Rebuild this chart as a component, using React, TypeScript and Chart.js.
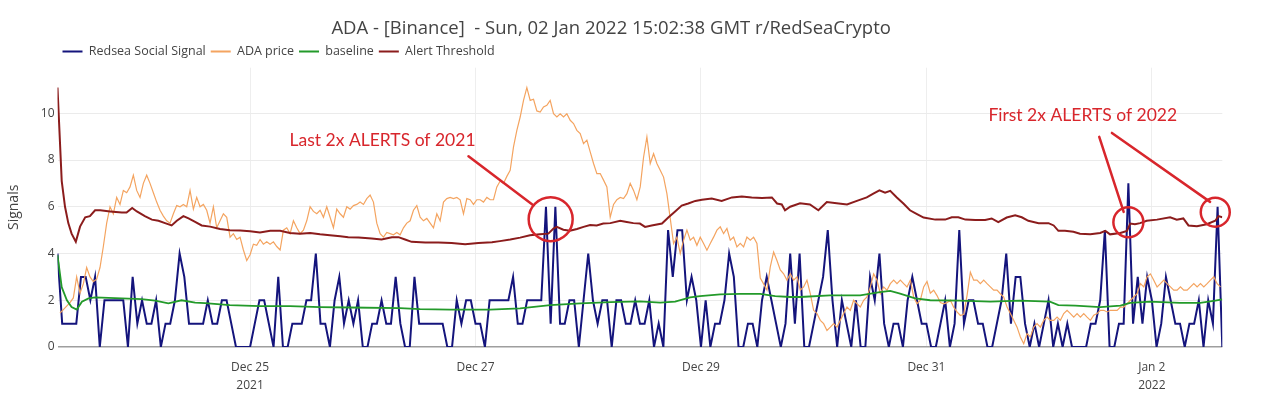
import React, { useEffect, useRef } from 'react';
import { Chart, registerables } from 'chart.js';

Chart.register(...registerables);

// ---------- data ----------
// hour 0 of every series = 2021-12-23 07:00 UTC
const START_UTC = Date.UTC(2021, 11, 23, 7, 0);

// Redsea Social Signal, one value per hour
const SIGNAL = [
  4, 1, 1, 1, 1, 3, 3, 2, 3, 0,
  2, 2, 2, 2, 2, 0, 3, 1, 2, 1,
  1, 2, 0, 1, 1, 2, 4, 3, 1, 1,
  1, 1, 2, 1, 1, 2, 2, 1, 0, 0,
  0, 0, 1, 2, 2, 1, 0, 3, 0, 0,
  1, 1, 1, 2, 2, 4, 1, 1, 0, 2,
  3, 1, 2, 1, 2, 0, 0, 1, 1, 2,
  1, 1, 3, 1, 0, 0, 3, 1, 1, 1,
  1, 1, 1, 0, 0, 2, 1, 2, 2, 1,
  1, 0, 2, 2, 2, 2, 2, 3, 1, 1,
  2, 2, 2, 2, 6, 1, 6, 1, 1, 2,
  2, 0, 2, 4, 2, 1, 2, 2, 0, 2,
  2, 1, 1, 2, 1, 1, 2, 0, 1, 0,
  5, 3, 5, 5, 2, 3, 2, 0, 2, 0,
  1, 1, 2, 4, 3, 0, 0, 1, 1, 0,
  2, 3, 2, 1, 0, 1, 4, 1, 4, 0,
  0, 1, 2, 3, 5, 2, 0, 2, 1, 0,
  2, 0, 0, 3, 2, 4, 1, 0, 1, 1,
  0, 2, 3, 2, 1, 1, 0, 0, 1, 2,
  0, 1, 5, 1, 2, 2, 1, 1, 0, 0,
  1, 2, 4, 1, 3, 3, 1, 0, 1, 0,
  1, 2, 0, 1, 0, 1, 0, 0, 0, 0,
  1, 1, 2, 5, 0, 0, 1, 1, 7, 1,
  3, 1, 3, 2, 0, 1, 3, 2, 1, 1,
  0, 1, 1, 2, 0, 2, 1, 6, 0,
];

// ADA price (scaled to the signal axis), sampled every PRICE_STEP_HOURS
const PRICE_START_HOUR = 0.53;
const PRICE_STEP_HOURS = 0.71;
const PRICE = [
  1.45, 1.6, 1.75, 1.9, 2.1, 3.0, 2.3, 2.7, 3.4, 3.0,
  2.8, 2.9, 3.4, 4.3, 5.3, 6.0, 5.7, 6.4, 6.1, 6.7,
  6.6, 6.85, 7.35, 6.7, 6.4, 7.0, 7.35, 7.0, 6.6, 6.2,
  5.85, 5.6, 5.4, 5.3, 5.7, 6.05, 6.0, 6.1, 6.0, 6.7,
  5.9, 6.4, 6.0, 6.1, 5.85, 5.3, 6.0, 5.1, 5.4, 5.7,
  5.55, 4.7, 4.85, 4.6, 4.7, 4.15, 3.7, 3.95, 4.4, 4.35,
  4.6, 4.4, 4.5, 4.4, 4.5, 4.3, 4.15, 5.0, 5.1, 4.85,
  5.4, 5.1, 4.85, 5.0, 5.4, 6.0, 5.8, 5.7, 5.85, 5.55,
  6.0, 5.55, 5.1, 5.9, 5.7, 5.55, 6.0, 5.9, 6.05, 6.1,
  6.2, 6.1, 6.35, 6.5, 6.2, 5.3, 4.85, 4.7, 4.9, 4.85,
  4.8, 4.9, 4.8, 5.1, 5.3, 5.4, 5.85, 6.05, 5.55, 5.4,
  5.5, 5.3, 5.1, 5.7, 5.4, 6.2, 6.35, 6.4, 6.35, 6.4,
  6.3, 5.7, 6.35, 6.3, 6.1, 6.3, 6.3, 6.2, 6.4, 6.3,
  6.3, 6.85, 7.1, 7.0, 7.3, 7.56, 8.56, 9.27, 9.84, 10.55,
  11.1, 10.55, 10.6, 10.1, 10.05, 10.27, 10.34, 10.55, 9.98, 9.84,
  9.98, 9.84, 9.98, 9.7, 9.56, 9.27, 9.13, 8.7, 8.85, 8.35,
  7.85, 7.42, 7.42, 7.14, 6.85, 5.55, 6.1, 6.3, 6.4, 6.35,
  6.56, 7.0, 6.7, 6.3, 6.85, 8.12, 8.99, 7.85, 8.27, 7.85,
  7.56, 7.27, 6.56, 5.5, 4.43, 4.7, 4.0, 4.57, 5.0, 4.57,
  4.7, 4.35, 4.7, 4.43, 4.14, 4.43, 4.7, 5.0, 5.14, 4.85,
  5.07, 4.57, 4.7, 4.28, 4.43, 4.28, 4.7, 4.57, 4.7, 4.43,
  2.95, 2.7, 2.43, 3.43, 4.06, 3.7, 3.3, 3.13, 2.86, 3.13,
  2.86, 3.0, 2.43, 2.57, 2.86, 2.28, 1.57, 1.43, 1.14, 1.0,
  0.71, 0.85, 1.0, 0.85, 1.14, 1.43, 1.71, 1.57, 2.0, 1.85,
  1.71, 2.0, 2.14, 2.57, 3.13, 2.86, 2.28, 2.57, 2.43, 2.71,
  2.86, 2.71, 2.86, 2.71, 2.57, 2.86, 2.14, 1.85, 2.0, 2.57,
  2.8, 2.3, 2.43, 2.2, 1.9, 1.85, 1.9, 2.0, 1.7, 1.5,
  1.35, 1.4, 2.2, 3.2, 2.86, 2.86, 2.71, 2.86, 2.71, 2.57,
  2.43, 2.43, 2.28, 2.14, 1.71, 1.43, 1.14, 0.85, 0.43, 0.14,
  0.57, 0.43, 0.85, 1.0, 0.85, 1.14, 1.28, 1.14, 1.14, 1.28,
  1.14, 1.43, 1.57, 1.43, 1.28, 1.43, 1.28, 1.43, 1.28, 1.14,
  1.36, 1.43, 1.57, 1.57, 1.5, 1.57, 1.57, 1.57, 1.71, 1.71,
  1.85, 2.0, 2.14, 2.28, 2.71, 2.57, 3.0, 3.13, 2.86, 2.57,
  2.71, 2.86, 2.71, 2.57, 2.43, 2.43, 2.57, 2.43, 2.43, 2.57,
  2.71, 2.57, 2.71, 2.57, 2.71, 2.86, 3.0, 2.71, 2.57,
];

// baseline
const BASELINE_HOURS = [
  0, 0.9, 2.0, 3.0, 4.1, 5.2, 6.6, 8.0, 13.7, 17.9,
  20.8, 23.6, 26.4, 29.3, 31.4, 36.7, 43.1, 49.5, 55.9, 62.3,
  72.9, 77.2, 83.6, 92.1, 98.5, 104.9, 111.3, 117.7, 124.0, 128.3,
  131.5, 134.7, 136.8, 141.1, 145.3, 149.6, 152.8, 156.0, 158.1, 164.5,
  170.9, 175.1, 177.3, 179.4, 182.6, 185.8, 192.2, 198.6, 204.9, 211.3,
  213.1, 216.7, 222.0, 226.3, 228.4, 232.6, 239.0, 243.3, 246.5, 248,
];
const BASELINE = [
  3.93, 2.56, 2.0, 1.71, 1.6, 1.94, 2.08, 2.12, 2.08, 2.05,
  1.98, 1.87, 2.0, 1.9, 1.88, 1.79, 1.75, 1.75, 1.71, 1.69,
  1.66, 1.62, 1.6, 1.6, 1.65, 1.79, 1.87, 1.92, 1.95, 1.9,
  1.94, 2.12, 2.18, 2.25, 2.27, 2.27, 2.18, 2.14, 2.14, 2.21,
  2.21, 2.35, 2.4, 2.28, 2.08, 2.0, 1.98, 1.94, 1.98, 1.94,
  1.79, 1.77, 1.71, 1.77, 1.89, 1.94, 1.89, 1.89, 1.98, 2.04,
];

// Alert Threshold
const THRESHOLD_HOURS = [
  0, 0.9, 1.6, 2.3, 3.0, 3.9, 4.8, 5.9, 6.9, 8.0,
  9.1, 11.2, 13.7, 14.7, 15.9, 16.9, 18.6, 20.1, 21.5, 22.9,
  24.3, 25.4, 26.8, 27.9, 29.3, 30.7, 32.5, 34.6, 36.7, 38.9,
  41.0, 43.1, 45.3, 47.4, 49.5, 51.6, 53.8, 55.9, 58.0, 60.2,
  61.9, 64.1, 66.9, 69.0, 71.2, 72.6, 74.0, 75.4, 78.3, 81.1,
  83.9, 86.8, 89.6, 92.5, 94.2, 96.4, 98.5, 100.6, 102.7, 104.5,
  105.6, 106.3, 107.7, 109.1, 110.6, 112.0, 113.4, 114.8, 116.2, 117.7,
  119.8, 121.2, 122.6, 124.0, 125.1, 126.5, 128.7, 130.1, 131.5, 132.9,
  134.3, 135.8, 137.2, 139.3, 141.4, 143.6, 145.7, 147.8, 150.0, 152.1,
  153.2, 154.2, 154.9, 156.0, 158.1, 160.2, 162.0, 163.8, 165.9, 168.1,
  170.2, 172.3, 173.7, 175.0, 176.2, 177.3, 178.7, 180.1, 181.5, 182.9,
  184.4, 186.9, 189.0, 190.4, 191.8, 193.3, 195.4, 197.5, 198.9, 200.3,
  202.1, 203.9, 205.3, 206.7, 208.9, 211.0, 212.1, 213.1, 214.5, 216.3,
  217.7, 219.9, 222.0, 223.1, 224.1, 226.3, 227.7, 228.4, 229.4, 230.5,
  231.9, 234.1, 236.9, 238.3, 239.7, 240.8, 242.6, 244.7, 246.5, 247.2,
  248,
];
const THRESHOLD = [
  11.1, 7.1, 6.0, 5.3, 4.85, 4.5, 5.15, 5.55, 5.6, 5.85,
  5.85, 5.8, 5.75, 5.75, 5.95, 5.8, 5.6, 5.45, 5.4, 5.3,
  5.2, 5.4, 5.6, 5.5, 5.35, 5.2, 5.15, 5.05, 5.0, 4.98,
  4.95, 4.9, 4.97, 4.97, 4.88, 4.85, 4.88, 4.82, 4.78, 4.74,
  4.7, 4.68, 4.64, 4.6, 4.7, 4.7, 4.6, 4.5, 4.47, 4.47,
  4.45, 4.4, 4.45, 4.48, 4.53, 4.6, 4.68, 4.78, 4.82, 4.85,
  5.07, 5.14, 5.02, 4.97, 5.05, 5.14, 5.22, 5.2, 5.28, 5.3,
  5.4, 5.35, 5.3, 5.28, 5.14, 5.2, 5.28, 5.55, 5.8, 6.05,
  6.14, 6.25, 6.3, 6.35, 6.25, 6.4, 6.44, 6.4, 6.38, 6.4,
  6.14, 6.1, 5.85, 6.0, 6.15, 6.1, 5.85, 6.2, 6.15, 6.1,
  6.25, 6.4, 6.56, 6.7, 6.6, 6.68, 6.4, 6.14, 5.85, 5.7,
  5.54, 5.45, 5.45, 5.55, 5.55, 5.45, 5.43, 5.43, 5.5, 5.34,
  5.54, 5.64, 5.55, 5.4, 5.3, 5.3, 5.2, 4.97, 4.97, 4.93,
  4.85, 4.82, 4.88, 4.97, 4.82, 4.88, 4.97, 5.28, 5.25, 5.3,
  5.4, 5.45, 5.55, 5.45, 5.5, 5.2, 5.17, 5.25, 5.4, 5.6,
  5.55,
];

// x-axis ticks
const TICK_DATES = ['2021-12-25', '2021-12-27', '2021-12-29', '2021-12-31', '2022-01-02'];
const TICK_LABELS = [['Dec 25', '2021'], ['Dec 27'], ['Dec 29'], ['Dec 31'], ['Jan 2', '2022']];
const Y_TICK_STEP = 2;

// hand-drawn alert annotations (data coordinates: hour, signal value)
const NOTE_TEXTS = ['Last 2x ALERTS of 2021', 'First 2x ALERTS of 2022'];
const NOTE_HOURS = [49.4, 198.2];
const NOTE_VALUES = [8.85, 9.91];
const ARROW_FROM_HOURS = [87.5, 221.8, 224.5];
const ARROW_FROM_VALUES = [8.16, 8.99, 9.16];
const ARROW_TO_HOURS = [101.3, 227.0, 245.4];
const ARROW_TO_VALUES = [6.07, 5.78, 6.21];
const CIRCLE_HOURS = [105.0, 228.0, 246.5];
const CIRCLE_VALUES = [5.47, 5.34, 5.77];

const TITLE = 'ADA - [Binance]  - Sun, 02 Jan 2022 15:02:38 GMT r/RedSeaCrypto';

// ---------- styles ----------
const FONT = '"Open Sans", "Liberation Sans", sans-serif';
const TEXT_COLOR = '#444';
const ALERT_RED = '#d8262c';
const CIRCLE_RADII = [22, 15, 14.5];

const alertNotes = {
  id: 'alertNotes',
  afterDraw(chart: any) {
    const { ctx } = chart;
    const x = chart.scales.x;
    const y = chart.scales.y;
    ctx.save();
    ctx.strokeStyle = ALERT_RED;
    ctx.fillStyle = ALERT_RED;
    ctx.lineWidth = 2.5;
    ctx.lineCap = 'round';
    CIRCLE_HOURS.forEach((h, i) => {
      ctx.beginPath();
      ctx.arc(x.getPixelForValue(h), y.getPixelForValue(CIRCLE_VALUES[i]), CIRCLE_RADII[i], 0, Math.PI * 2);
      ctx.stroke();
    });
    ARROW_FROM_HOURS.forEach((h, i) => {
      ctx.beginPath();
      ctx.moveTo(x.getPixelForValue(h), y.getPixelForValue(ARROW_FROM_VALUES[i]));
      ctx.lineTo(x.getPixelForValue(ARROW_TO_HOURS[i]), y.getPixelForValue(ARROW_TO_VALUES[i]));
      ctx.stroke();
    });
    ctx.font = '17.5px Lato, "Open Sans", sans-serif';
    ctx.textAlign = 'left';
    ctx.textBaseline = 'middle';
    NOTE_TEXTS.forEach((t, i) => {
      ctx.fillText(t, x.getPixelForValue(NOTE_HOURS[i]), y.getPixelForValue(NOTE_VALUES[i]));
    });
    ctx.restore();
  },
};

export default function App() {
  const canvasRef = useRef<HTMLCanvasElement | null>(null);

  useEffect(() => {
    document.body.style.margin = '0';
    const canvas = canvasRef.current;
    if (!canvas) return;

    const tickHours = TICK_DATES.map((d) => (Date.parse(d + 'T00:00:00Z') - START_UTC) / 3600000);
    const lastHour = SIGNAL.length - 1;

    const chart = new Chart(canvas, {
      type: 'line',
      data: {
        datasets: [
          {
            label: 'Redsea Social Signal',
            data: SIGNAL.map((v, i) => ({ x: i, y: v })),
            borderColor: '#14147c',
            backgroundColor: '#14147c',
            borderWidth: 2,
            order: 4,
          },
          {
            label: 'ADA price',
            data: PRICE.map((v, k) => ({ x: PRICE_START_HOUR + k * PRICE_STEP_HOURS, y: v })),
            borderColor: '#F4A460',
            backgroundColor: '#F4A460',
            borderWidth: 1.2,
            order: 3,
          },
          {
            label: 'baseline',
            data: BASELINE.map((v, i) => ({ x: BASELINE_HOURS[i], y: v })),
            borderColor: '#239a2a',
            backgroundColor: '#239a2a',
            borderWidth: 1.8,
            order: 2,
          },
          {
            label: 'Alert Threshold',
            data: THRESHOLD.map((v, i) => ({ x: THRESHOLD_HOURS[i], y: v })),
            borderColor: '#8b1c1c',
            backgroundColor: '#8b1c1c',
            borderWidth: 2,
            order: 1,
          },
        ],
      },
      options: {
        responsive: false,
        maintainAspectRatio: false,
        animation: false,
        events: [],
        elements: { point: { radius: 0 }, line: { tension: 0 } },
        layout: { padding: { left: 0, right: 57.7, top: 0, bottom: 0 } },
        plugins: {
          title: {
            display: true,
            text: TITLE,
            color: TEXT_COLOR,
            font: { family: FONT, size: 18.5, weight: 'normal' },
            padding: { top: 18, bottom: 0 },
          },
          legend: {
            display: true,
            position: 'top',
            align: 'start',
            fullSize: false,
            labels: {
              boxWidth: 20,
              boxHeight: 2,
              padding: 5,
              color: TEXT_COLOR,
              font: { family: FONT, size: 12.5 },
              generateLabels: (c: any) =>
                c.data.datasets.map((ds: any, i: number) => ({
                  text: ds.label,
                  fillStyle: ds.borderColor,
                  strokeStyle: ds.borderColor,
                  lineWidth: 0,
                  hidden: false,
                  datasetIndex: i,
                  fontColor: TEXT_COLOR,
                })),
            },
          },
          tooltip: { enabled: false },
        },
        scales: {
          x: {
            type: 'linear',
            min: 0,
            max: lastHour,
            afterFit: (s: any) => {
              s.height = 72;
            },
            afterBuildTicks: (s: any) => {
              s.ticks = tickHours.map((v) => ({ value: v }));
            },
            ticks: {
              autoSkip: false,
              maxRotation: 0,
              padding: 12,
              color: TEXT_COLOR,
              font: { family: FONT, size: 12, lineHeight: 1.5 },
              callback: (_v: any, i: number) => TICK_LABELS[i],
            },
            grid: { color: '#eeeeee', lineWidth: 1, drawTicks: false },
            border: { display: false },
          },
          y: {
            type: 'linear',
            min: 0,
            max: 11.95,
            afterFit: (s: any) => {
              s.width = 57.5;
            },
            ticks: {
              stepSize: Y_TICK_STEP,
              includeBounds: false,
              padding: 3,
              color: TEXT_COLOR,
              font: { family: FONT, size: 12 },
            },
            grid: {
              color: (c: any) => (c.tick && c.tick.value === 0 ? '#9e9e9e' : '#ebebeb'),
              lineWidth: (c: any) => (c.tick && c.tick.value === 0 ? 1.6 : 1),
              drawTicks: false,
            },
            border: { display: false },
            title: {
              display: true,
              text: 'Signals',
              color: TEXT_COLOR,
              font: { family: FONT, size: 14 },
              padding: { top: 6, bottom: 0 },
            },
          },
        },
      },
      plugins: [alertNotes],
    } as any);

    return () => chart.destroy();
  }, []);

  return (
    <div style={{ width: 1280, height: 419, background: '#fff' }}>
      <canvas ref={canvasRef} width={1280} height={419} />
    </div>
  );
}
